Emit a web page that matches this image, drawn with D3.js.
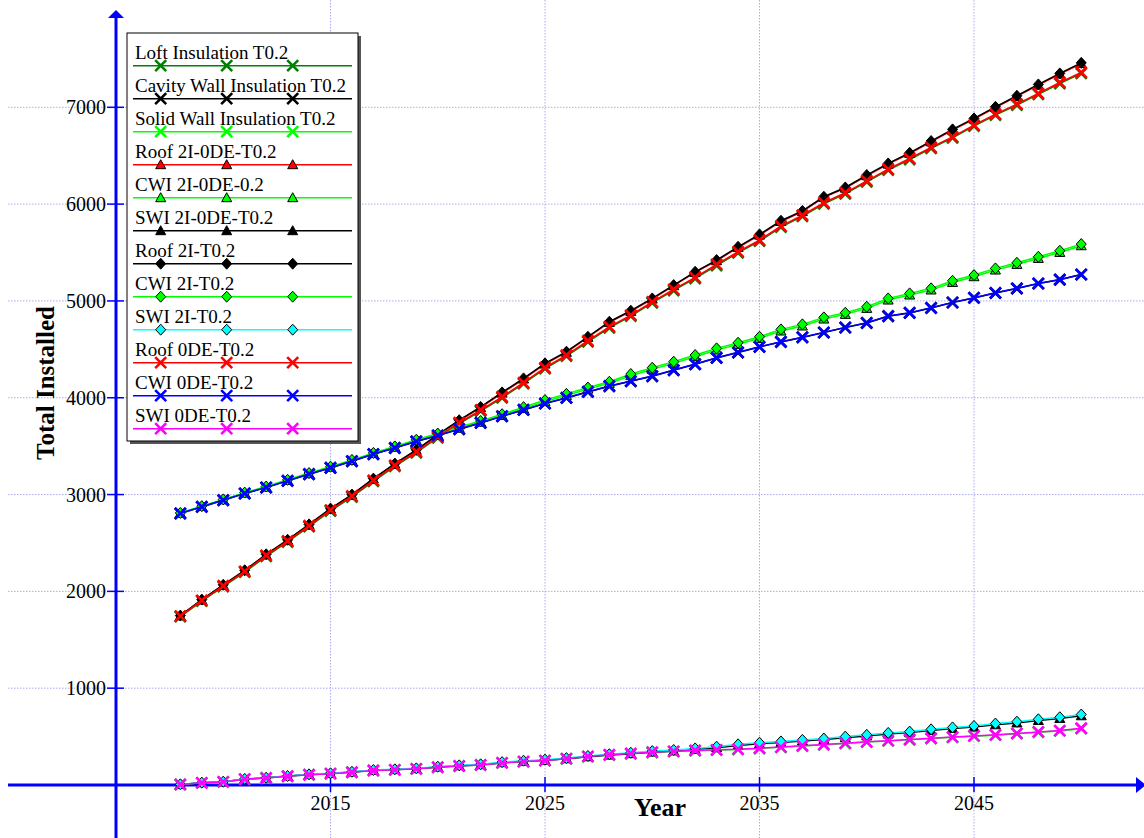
<!DOCTYPE html>
<html>
<head>
<meta charset="utf-8">
<script src="https://cdn.jsdelivr.net/npm/d3@7"></script>
<style>
  html, body { margin: 0; padding: 0; background: #fff; }
  svg { display: block; }
  text { font-family: "Liberation Serif", "Times New Roman", serif; }
</style>
</head>
<body>
<svg id="chart" width="1144" height="838"></svg>
<script>
// ---------------- data ----------------
const years = d3.range(2008, 2051);
const xTicks = [2015, 2025, 2035, 2045];
const yTicks = [1000, 2000, 3000, 4000, 5000, 6000, 7000];

const seriesNames = [
  "Loft Insulation T0.2", "Cavity Wall Insulation T0.2", "Solid Wall Insulation T0.2",
  "Roof 2I-0DE-T0.2", "CWI 2I-0DE-0.2", "SWI 2I-0DE-T0.2",
  "Roof 2I-T0.2", "CWI 2I-T0.2", "SWI 2I-T0.2",
  "Roof 0DE-T0.2", "CWI 0DE-T0.2", "SWI 0DE-T0.2"
];
const lineColors = ["#008000", "#000000", "#00ff00", "#ff0000", "#00ff00", "#000000",
                    "#000000", "#00ff00", "#00ffff", "#ff0000", "#0000ff", "#ff00ff"];
const markerTypes = ["x", "x", "x", "tri", "tri", "tri", "dia", "dia", "dia", "x", "x", "x"];
const markerFills = ["#008000", "#000000", "#00ff00", "#ff0000", "#00ff00", "#000000",
                     "#000000", "#00ff00", "#00ffff", "#ff0000", "#0000ff", "#ff00ff"];

const loft = [1740,1900,2050,2198,2362,2510,2668,2830,2975,3137,3292,3432,3587,3732,3863,4000,4145,4300,4430,4578,4722,4843,4980,5108,5232,5366,5497,5617,5762,5874,6003,6106,6230,6351,6461,6575,6684,6805,6919,7022,7133,7246,7350];
const cavity = [2804,2872,2941,3010,3072,3141,3210,3275,3344,3416,3481,3548,3609,3675,3740,3808,3874,3940,3998,4060,4119,4170,4222,4284,4346,4411,4467,4525,4576,4623,4673,4725,4772,4842,4876,4927,4983,5031,5082,5128,5179,5219,5272];
const solid = [5,22,32,60,72,90,106,117,132,150,157,167,183,196,207,228,242,252,270,292,309,322,335,345,354,360,367,377,389,402,415,429,443,455,467,480,492,504,515,530,545,559,582];
const roof2I0DE = [1748,1912,2064,2214,2379,2529,2688,2851,2996,3160,3315,3457,3614,3762,3898,4048,4193,4348,4469,4623,4778,4892,5019,5157,5294,5415,5552,5680,5821,5923,6069,6165,6293,6413,6523,6644,6765,6878,6998,7112,7229,7343,7452];
const cwi2I0DE = [2808,2877,2946,3016,3078,3147,3216,3283,3352,3424,3490,3558,3620,3686,3748,3816,3888,3960,4024,4089,4149,4228,4293,4355,4424,4493,4551,4613,4689,4741,4813,4861,4923,5009,5061,5113,5191,5250,5319,5377,5439,5501,5570];
const swi2I0DE = [6,23,33,61,74,92,108,119,134,152,159,169,186,199,210,231,246,256,271,292,309,324,340,352,368,386,409,426,439,455,469,489,507,527,541,563,583,598,622,641,666,687,715];
const roof2I = [1750,1915,2068,2218,2383,2533,2692,2855,3000,3165,3320,3462,3620,3768,3905,4055,4200,4355,4476,4630,4785,4899,5026,5164,5301,5422,5559,5687,5828,5930,6076,6172,6300,6420,6530,6651,6772,6885,7005,7119,7236,7350,7459];
const cwi2I = [2810,2880,2950,3020,3083,3152,3222,3288,3358,3430,3497,3566,3630,3698,3760,3830,3903,3976,4040,4105,4165,4245,4310,4372,4441,4510,4568,4630,4706,4758,4830,4878,4940,5026,5078,5130,5208,5267,5336,5394,5456,5518,5587];
const swi2I = [7,24,34,63,75,93,110,121,137,155,162,172,189,203,214,236,251,262,278,300,318,333,350,362,378,396,420,437,450,466,480,500,518,538,552,575,595,610,635,654,679,700,728];
const roof0DE = [1745,1907,2058,2207,2372,2520,2678,2840,2985,3147,3302,3442,3597,3742,3873,4010,4155,4310,4441,4589,4733,4854,4991,5119,5243,5377,5508,5628,5773,5885,6014,6117,6241,6362,6472,6586,6695,6816,6930,7033,7144,7257,7360];
const cwi0DE = [2806,2874,2943,3012,3074,3143,3212,3277,3346,3418,3483,3550,3611,3677,3742,3810,3876,3942,4000,4062,4121,4172,4224,4286,4348,4413,4469,4527,4578,4625,4675,4727,4774,4844,4878,4929,4985,5033,5084,5130,5181,5221,5274];
const swi0DE = [5,22,32,60,72,90,106,117,132,150,157,167,183,196,207,228,242,252,272,295,312,325,338,348,357,363,370,380,392,405,418,432,446,458,470,483,495,507,518,533,548,562,586];

const seriesValues = [loft, cavity, solid, roof2I0DE, cwi2I0DE, swi2I0DE, roof2I, cwi2I, swi2I, roof0DE, cwi0DE, swi0DE];

// ---------------- drawing ----------------
const W = 1144, H = 838;
const svg = d3.select("#chart");
const x = d3.scaleLinear().domain([2005, 2045]).range([116, 974]);
const y = d3.scaleLinear().domain([0, 7000]).range([785, 107.3]);

const gridColor = "#aaaaee";
// horizontal grid
svg.append("g").selectAll("line").data(yTicks).join("line")
  .attr("x1", 8).attr("x2", W)
  .attr("y1", d => y(d)).attr("y2", d => y(d))
  .attr("stroke", gridColor).attr("stroke-width", 1).attr("stroke-dasharray", "1.5,1.5");
// vertical grid
svg.append("g").selectAll("line").data(xTicks).join("line")
  .attr("x1", d => x(d)).attr("x2", d => x(d))
  .attr("y1", 0).attr("y2", H)
  .attr("stroke", gridColor).attr("stroke-width", 1).attr("stroke-dasharray", "1.5,1.5");

// axes
const axisColor = "#0000ff";
const x0 = x(2005), y0 = y(0);
svg.append("line").attr("x1", 8).attr("x2", W - 6).attr("y1", y0).attr("y2", y0)
  .attr("stroke", axisColor).attr("stroke-width", 3);
svg.append("path").attr("d", `M${W - 8},${y0 - 8} L${W + 2},${y0} L${W - 8},${y0 + 8} Z`).attr("fill", axisColor);
svg.append("line").attr("x1", x0).attr("x2", x0).attr("y1", H).attr("y2", 16)
  .attr("stroke", axisColor).attr("stroke-width", 3);
svg.append("path").attr("d", `M${x0 - 8},${18} L${x0},${10} L${x0 + 8},${18} Z`).attr("fill", axisColor);

// ticks
svg.append("g").selectAll("line").data(yTicks).join("line")
  .attr("x1", x0 - 9).attr("x2", x0 + 8)
  .attr("y1", d => y(d)).attr("y2", d => y(d))
  .attr("stroke", axisColor).attr("stroke-width", 1.5);
svg.append("g").selectAll("line").data(xTicks).join("line")
  .attr("x1", d => x(d)).attr("x2", d => x(d))
  .attr("y1", y0 - 8).attr("y2", y0 + 7)
  .attr("stroke", axisColor).attr("stroke-width", 1.5);

// tick labels
svg.append("g").selectAll("text").data(yTicks).join("text")
  .attr("x", x0 - 10).attr("y", d => y(d) + 7)
  .attr("text-anchor", "end").attr("font-size", 20).attr("fill", "#000")
  .text(d => d);
svg.append("g").selectAll("text").data(xTicks).join("text")
  .attr("x", d => x(d)).attr("y", 810)
  .attr("text-anchor", "middle").attr("font-size", 20).attr("fill", "#000")
  .text(d => d);

// axis titles
svg.append("text").attr("x", 660).attr("y", 816).attr("text-anchor", "middle")
  .attr("font-size", 26).attr("font-weight", "bold").text("Year");
svg.append("text").attr("transform", "translate(54,383) rotate(-90)").attr("text-anchor", "middle")
  .attr("font-size", 25).attr("font-weight", "bold").text("Total Installed");

// marker drawing
function drawMarker(g, type, color) {
  if (type === "x") {
    const s = 5.5;
    g.append("path").attr("d", `M${-s},${-s}L${s},${s}M${-s},${s}L${s},${-s}`)
      .attr("stroke", color).attr("stroke-width", 2.6).attr("fill", "none");
  } else if (type === "tri") {
    g.append("path").attr("d", "M0,-5L5,4L-5,4Z")
      .attr("fill", color).attr("stroke", "#000").attr("stroke-width", 1);
  } else {
    g.append("path").attr("d", "M0,-5.5L5,0L0,5.5L-5,0Z")
      .attr("fill", color).attr("stroke", "#000").attr("stroke-width", 1);
  }
}

const line = d3.line().x(d => x(d[0])).y(d => y(d[1]));
const plot = svg.append("g");
seriesValues.forEach((vals, i) => {
  const pts = years.map((yr, j) => [yr, vals[j]]);
  const g = plot.append("g");
  g.append("path").datum(pts).attr("d", line)
    .attr("fill", "none").attr("stroke", lineColors[i]).attr("stroke-width", 1.5);
  g.selectAll("g.m").data(pts).join("g").attr("class", "m")
    .attr("transform", d => `translate(${x(d[0])},${y(d[1])})`)
    .each(function() { drawMarker(d3.select(this), markerTypes[i], markerFills[i]); });
});

// legend
const lg = svg.append("g");
const lx = 127, ly = 33, lw = 231, lh = 408;
lg.append("rect").attr("x", lx + 3).attr("y", ly + 3).attr("width", lw).attr("height", lh).attr("fill", "#555");
lg.append("rect").attr("x", lx).attr("y", ly).attr("width", lw).attr("height", lh)
  .attr("fill", "#fff").attr("stroke", "#000").attr("stroke-width", 1);
seriesNames.forEach((name, i) => {
  const ry = 65.7 + i * 33;
  lg.append("text").attr("x", 135).attr("y", ry - 6.5).attr("font-size", 19)
    .attr("fill", "#000").text(name);
  lg.append("line").attr("x1", 133).attr("x2", 352).attr("y1", ry).attr("y2", ry)
    .attr("stroke", lineColors[i]).attr("stroke-width", 1.5);
  [160.7, 226.7, 292.7].forEach(mx => {
    drawMarker(lg.append("g").attr("transform", `translate(${mx},${ry})`), markerTypes[i], markerFills[i]);
  });
});
</script>
</body>
</html>
